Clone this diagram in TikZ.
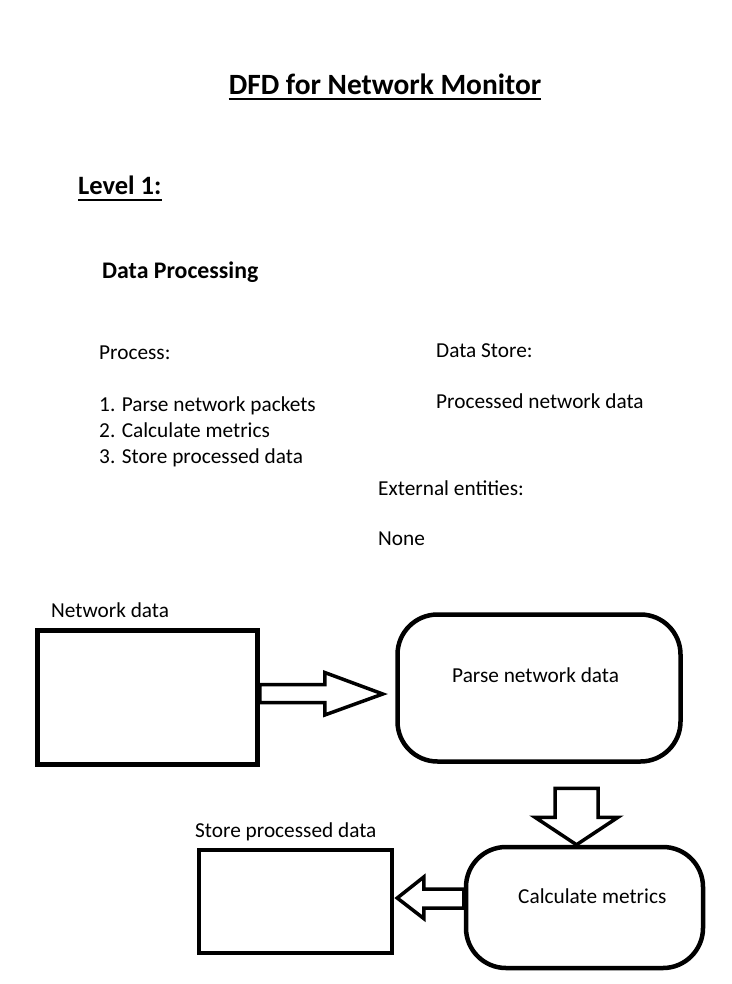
\documentclass[tikz,border=0pt]{standalone}
\usepackage{fontspec}
\setmainfont{Carlito}
\usetikzlibrary{calc}
\tikzset{
  txt/.style={inner sep=0pt, anchor=base west, font=\fontsize{21.3}{25}\selectfont},
  boxstyle/.style={draw, line width=4.5pt, inner sep=0pt},
  procstyle/.style={draw, line width=4.5pt, rounded corners=40pt, inner sep=0pt},
  barrow/.style={draw, line width=3.5pt, line join=miter},
  uline/.style={line width=2.2pt}
}
\begin{document}
\begin{tikzpicture}[x=1pt,y=-1pt]
\useasboundingbox[fill=white] (0,0) rectangle (731,984);

% headings
\node[txt, anchor=base, font=\fontsize{29.4}{34}\selectfont\bfseries] (title) at (385,95) {DFD for Network Monitor};
\draw[uline] ($(title.base west)+(0,4)$) -- ($(title.base east)+(0,4)$);
\node[txt, font=\fontsize{26.5}{31}\selectfont\bfseries] (lvl) at (78,195) {Level 1:};
\draw[uline] ($(lvl.base west)+(0,5)$) -- ($(lvl.base east)+(0,5)$);
\node[txt, font=\fontsize{23.8}{28}\selectfont\bfseries] (dp) at (102,278) {Data Processing};

% description
\node[txt] (proc) at (99,359) {Process:};
\node[txt] (p1) at (99,411) {1. Parse network packets};
\node[txt] (p2) at (99,437) {2. Calculate metrics};
\node[txt] (p3) at (99,463) {3. Store processed data};
\node[txt] (ds) at (436,357) {Data Store:};
\node[txt] (dsv) at (436,408) {Processed network data};
\node[txt] (ee) at (378,495) {External entities:};
\node[txt] (eev) at (378,545) {None};

% diagram
\node[txt] (ndl) at (51,617) {Network data};
\node[boxstyle, minimum width=220pt, minimum height=134pt] (nd) at (147.5,697.5) {};
\node[procstyle, minimum width=283pt, minimum height=147pt] (pnd) at (539,688) {};
\node[txt] (pndt) at (452,682) {Parse network data};
\node[procstyle, minimum width=237pt, minimum height=121pt] (cnd) at (584.5,907.5) {};
\node[txt] (cndt) at (518,903) {Calculate metrics};
\node[txt] (sbl) at (195,837) {Store processed data};
\node[boxstyle, minimum width=193pt, minimum height=103pt] (sbox) at (295.5,901.5) {};

% block arrow 1: Network data -> Parse
\coordinate (a1s) at ($(nd.east)+(0,-4)$);
\coordinate (a1t) at ($(pnd.west)+(-12.5,6)$);
\draw[barrow] ($(a1s)+(0,-9)$) -- ++(65,0) -- ++(0,-12) -- (a1t)
  -- ($(a1s)+(65,21.5)$) -- ++(0,-12.5) -- ($(a1s)+(0,9)$) -- cycle;

% block arrow 2: Parse -> Calculate
\coordinate (a2s) at ($(pnd.south)+(37.5,24.5)$);
\coordinate (a2t) at ($(cnd.north)+(-8,0)$);
\draw[barrow] ($(a2s)+(-21.5,0)$) -- ++(0,29) -- ++(-20,0) -- (a2t)
  -- ($(a2s)+(41.5,29)$) -- ++(-20,0) -- ($(a2s)+(21.5,0)$) -- cycle;

% block arrow 3: Calculate -> Store
\coordinate (a3s) at ($(cnd.west)+(0,-9)$);
\coordinate (a3t) at ($(sbox.east)+(3,-3.5)$);
\draw[barrow] ($(a3s)+(0,-9.5)$) -- ++(-40,0) -- ++(0,-12) -- (a3t)
  -- ($(a3s)+(-40,20)$) -- ++(0,-10.5) -- ($(a3s)+(0,9.5)$) -- cycle;
\end{tikzpicture}
\end{document}
